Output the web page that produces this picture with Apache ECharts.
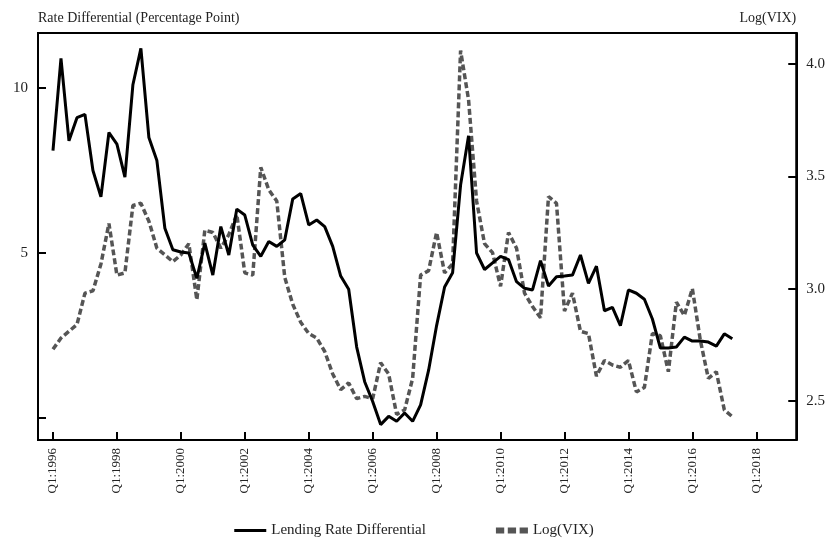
<!DOCTYPE html>
<html><head><meta charset="utf-8">
<script src="https://cdn.jsdelivr.net/npm/echarts@6/dist/echarts.min.js"></script>
<style>html,body{margin:0;padding:0;background:#fff}#c{width:828px;height:543px}</style>
</head><body><div id="c"></div>
<script>
// quarter index 0 = Q1:1996
const lendingDiff = [8.1,10.9,8.4,9.1,9.2,7.5,6.7,8.65,8.3,7.3,10.1,11.2,8.5,7.8,5.75,5.1,5.03,5.0,4.23,5.3,4.33,5.8,4.94,6.33,6.15,5.24,4.9,5.35,5.2,5.4,6.64,6.8,5.85,6.0,5.8,5.2,4.3,3.9,2.15,1.1,0.5,-0.2,0.05,-0.1,0.15,-0.1,0.4,1.45,2.8,3.97,4.4,7.06,8.55,5.0,4.5,4.7,4.9,4.8,4.13,3.93,3.88,4.77,4.0,4.28,4.3,4.33,4.94,4.08,4.6,3.25,3.35,2.8,3.88,3.78,3.6,3.0,2.12,2.12,2.15,2.45,2.33,2.33,2.3,2.18,2.55,2.4];
const logVix = [2.73,2.78,2.81,2.84,2.98,2.99,3.11,3.29,3.06,3.07,3.37,3.38,3.30,3.18,3.15,3.12,3.15,3.2,2.95,3.26,3.25,3.18,3.24,3.33,3.07,3.06,3.54,3.44,3.39,3.05,2.93,2.85,2.80,2.78,2.72,2.62,2.55,2.58,2.51,2.52,2.51,2.67,2.62,2.44,2.46,2.6,3.06,3.08,3.25,3.07,3.11,4.06,3.84,3.39,3.2,3.16,3.01,3.25,3.18,2.98,2.92,2.87,3.41,3.38,2.90,2.98,2.81,2.80,2.61,2.68,2.66,2.65,2.68,2.54,2.56,2.80,2.79,2.63,2.94,2.88,3.0,2.77,2.60,2.63,2.46,2.43];
const yearTicks = [1996,1998,2000,2002,2004,2006,2008,2010,2012,2014,2016,2018];
const tickIdx = yearTicks.map(y => (y-1996)*4);
const leftTicks = [0,5,10];
const rightTicks = [2.5,3.0,3.5,4.0];

const font = 'Liberation Serif';
const tick = {show:true,inside:false,length:-8,lineStyle:{color:'#000',width:2}};
const chart = echarts.init(document.getElementById('c'));
chart.setOption({
  animation:false,
  textStyle:{fontFamily:font,color:'#222'},
  grid:{left:38,right:31,top:33,bottom:103,show:true,borderColor:'#000',borderWidth:2},
  legend:{bottom:0,left:'center',itemWidth:32,itemHeight:10,itemGap:70,
    textStyle:{fontFamily:font,fontSize:15,color:'#222'},
    data:[{name:'Lending Rate Differential',icon:'path://M0,4h32v3h-32z'},{name:'Log(VIX)',icon:'path://M0,3h7v5h-7zM10,3h7v5h-7zM20,3h7v5h-7z'}]},
  xAxis:{type:'value',min:-1.875,max:93,
    axisLine:{show:true,onZero:false,lineStyle:{color:'#000',width:2}},splitLine:{show:false},
    axisTick:Object.assign({customValues:tickIdx},tick),
    axisLabel:{rotate:90,fontSize:13,color:'#222',margin:8,customValues:tickIdx,
      formatter:v=>'Q1:'+(1996+Math.round(v/4))}},
  yAxis:[
    {type:'value',min:-0.667,max:11.667,position:'left',
     name:'Rate Differential (Percentage Point)',nameLocation:'end',nameGap:8,
     nameTextStyle:{fontSize:14,color:'#222',align:'left'},
     axisLine:{show:true,onZero:false,lineStyle:{color:'#000',width:2}},splitLine:{show:false},
     axisTick:Object.assign({customValues:leftTicks},tick),
     axisLabel:{fontSize:15,color:'#222',margin:10,customValues:leftTicks,formatter:v=>v===0?'':String(v)}},
    {type:'value',min:2.326,max:4.138,position:'right',
     name:'Log(VIX)',nameLocation:'end',nameGap:8,
     nameTextStyle:{fontSize:14,color:'#222',align:'right'},
     axisLine:{show:true,onZero:false,lineStyle:{color:'#000',width:2}},splitLine:{show:false},
     axisTick:Object.assign({customValues:rightTicks},tick),
     axisLabel:{fontSize:15,color:'#222',margin:10,customValues:rightTicks,formatter:v=>v.toFixed(1)}}
  ],
  series:[
    {name:'Log(VIX)',type:'line',yAxisIndex:1,symbol:'none',z:2,
     data:logVix.map((v,i)=>[i,v]),
     lineStyle:{color:'#555',width:3.5,type:[6,3]},itemStyle:{color:'#555'}},
    {name:'Lending Rate Differential',type:'line',yAxisIndex:0,symbol:'none',z:3,
     data:lendingDiff.map((v,i)=>[i,v]),
     lineStyle:{color:'#000',width:3},itemStyle:{color:'#000'}}
  ]
});
</script></body></html>
